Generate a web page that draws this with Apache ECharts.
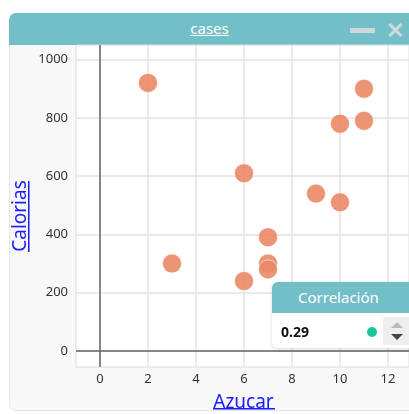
<!DOCTYPE html>
<html>
<head>
<meta charset="utf-8">
<script src="https://cdn.jsdelivr.net/npm/echarts@6/dist/echarts.min.js"></script>
<style>
  html, body { margin: 0; padding: 0; background: #fff; }
  #wrap { position: relative; width: 409px; height: 414px; overflow: hidden; font-family: 'Noto Sans', sans-serif; }
  .win { position: absolute; left: 9px; top: 13px; width: 420px; height: 398px; background: #f8f8f8;
         border: 1px solid #e6e6e6; border-radius: 7px; box-sizing: border-box; }
  .win-head { position: absolute; left: 9px; top: 13px; width: 420px; height: 32px; background: #73bfc8;
              border-radius: 7px 7px 0 0; }
  .win-title { position: absolute; left: 0; width: 401px; top: 5px; text-align: center; color: #fff;
               font-size: 15px; text-decoration: underline; }
  .win-min { position: absolute; left: 341px; top: 15px; width: 25px; height: 5px; background: #d2d8da; border-radius: 1px; }
  .win-close { position: absolute; left: 377px; top: 3px; color: #d2d8da; font-size: 22px; font-weight: bold; line-height: 26px; }
  #chart { position: absolute; left: 0; top: 0; width: 409px; height: 414px; }
  .corr { position: absolute; left: 272px; top: 282px; width: 150px; height: 66px; background: #fff;
          border-radius: 6px; box-shadow: 0 1px 4px rgba(0,0,0,0.15); overflow: hidden; }
  .corr-head { height: 31px; background: #73bfc8; color: #fff; font-size: 15px; line-height: 31px; padding-left: 26px; }
  .corr-val { position: absolute; left: 9px; top: 40px; font-size: 14px; font-weight: bold; color: #111; }
  .corr-dot { position: absolute; left: 95px; top: 45px; width: 10px; height: 10px; border-radius: 50%; background: #1cc597; }
  .corr-spin { position: absolute; left: 111px; top: 35px; width: 30px; height: 28px; background: #efefef; }
  .up { position: absolute; left: 8px; top: 5px; width: 0; height: 0; border-left: 6px solid transparent;
        border-right: 6px solid transparent; border-bottom: 6px solid #bbb; }
  .down { position: absolute; left: 8px; top: 17px; width: 0; height: 0; border-left: 6px solid transparent;
          border-right: 6px solid transparent; border-top: 6px solid #444; }
</style>
</head>
<body>
<div id="wrap">
  <div class="win"></div>
  <div class="win-head">
    <div class="win-title">cases</div>
    <div class="win-min"></div>
    <div class="win-close">✕</div>
  </div>
  <div id="chart"></div>
  <div class="corr">
    <div class="corr-head">Correlación</div>
    <div class="corr-val">0.29</div>
    <div class="corr-dot"></div>
    <div class="corr-spin"><div class="up"></div><div class="down"></div></div>
  </div>
</div>
<script>
// values
const azucar = [2, 11, 10, 11, 6, 9, 10, 7, 3, 7, 7, 6]
const calorias = [920, 900, 780, 790, 610, 540, 510, 390, 300, 300, 280, 240]
const xTicks = [0, 2, 4, 6, 8, 10, 12]
const yTicks = [0, 200, 400, 600, 800, 1000]

const points = azucar.map((x, i) => [x, calorias[i]])

const chart = echarts.init(document.getElementById('chart'))
const labelFont = { color: '#333', fontSize: 13, fontFamily: 'Noto Sans', formatter: v => String(v) }

chart.setOption({
  animation: false,
  grid: {
    left: 76,
    top: 45,
    right: 0,
    height: 322,
    outerBoundsMode: 'none',
    containLabel: false,
    show: true,
    backgroundColor: '#fff',
    borderColor: '#dcdcdc',
    borderWidth: 1
  },
  xAxis: {
    type: 'value',
    min: -1,
    max: 12.875,
    name: 'Azucar',
    nameLocation: 'middle',
    nameGap: 26,
    nameTextStyle: { color: '#1a1aff', fontSize: 19, fontFamily: 'Noto Sans', padding: [0, 0, 0, 2] },
    axisLine: { show: false },
    axisTick: { show: false, customValues: xTicks },
    axisLabel: Object.assign({ customValues: xTicks, margin: 6 }, labelFont),
    splitLine: { show: true, customValues: xTicks, lineStyle: { color: '#e3e3e3', width: 1.5 } }
  },
  yAxis: {
    type: 'value',
    min: -55,
    max: 1050,
    name: 'Calorias',
    nameLocation: 'middle',
    nameMoveOverlap: false,
    nameGap: 46,
    nameTextStyle: { color: '#1a1aff', fontSize: 19, fontFamily: 'Noto Sans', padding: [0, 20, 0, 0] },
    axisLine: { show: false },
    axisTick: { show: false, customValues: yTicks },
    axisLabel: Object.assign({ customValues: yTicks, margin: 8 }, labelFont),
    splitLine: { show: true, customValues: yTicks, lineStyle: { color: '#e3e3e3', width: 1.5 } }
  },
  graphic: [
    { type: 'rect', left: 213, top: 408, shape: { width: 62, height: 1.5 }, style: { fill: '#1a1aff' } },
    { type: 'rect', left: 28, top: 181, shape: { width: 1.5, height: 71 }, style: { fill: '#1a1aff' } }
  ],
  series: [{
    type: 'scatter',
    symbolSize: 19,
    data: points,
    itemStyle: {
      color: '#ea8865',
      opacity: 0.9,
      borderColor: 'rgba(255,255,255,0.6)',
      borderWidth: 1
    },
    markLine: {
      silent: true,
      symbol: 'none',
      label: { show: false },
      lineStyle: { color: '#666', width: 1.5, type: 'solid' },
      data: [{ xAxis: 0 }, { yAxis: 0 }]
    }
  }]
})
</script>
</body>
</html>
